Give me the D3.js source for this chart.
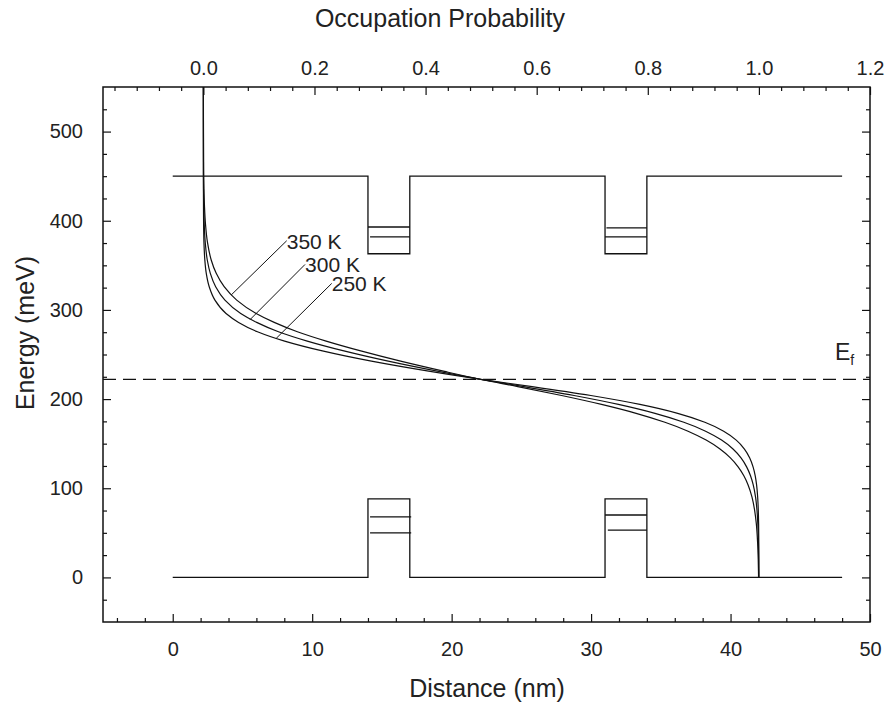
<!DOCTYPE html>
<html><head><meta charset="utf-8">
<script src="https://cdn.jsdelivr.net/npm/d3@7"></script>
<style>
body{margin:0;background:#fff;}
svg{display:block;}
text{font-family:Arial,"Liberation Sans",sans-serif;fill:#222;}
</style>
</head><body>
<svg id="c" width="887" height="706"></svg>
<script>
// ---------- data ----------
const distTicks = [0, 10, 20, 30, 40, 50];
const distMinor = [-4, -2, 2, 4, 6, 8, 12, 14, 16, 18, 22, 24, 26, 28, 32, 34, 36, 38, 42, 44, 46, 48];
const energyTicks = [0, 100, 200, 300, 400, 500];
const energyMinor = [-25, 25, 50, 75, 125, 150, 175, 225, 250, 275, 325, 350, 375, 425, 450, 475, 525];
const probTicks = [0.0, 0.2, 0.4, 0.6, 0.8, 1.0, 1.2];
const probMinor = [-0.16, -0.12, -0.08, -0.04, 0.04, 0.08, 0.12, 0.16, 0.24, 0.28, 0.32, 0.36, 0.44, 0.48, 0.52, 0.56,
                   0.64, 0.68, 0.72, 0.76, 0.84, 0.88, 0.92, 0.96, 1.04, 1.08, 1.12, 1.16];

const fermiLevel = 222;

// band edges (distance nm, energy meV)
const bandX = [0, 14, 14, 17, 17, 31, 31, 34, 34, 48];
const conductionE = [450, 450, 363, 363, 450, 450, 363, 363, 450, 450];
const valenceE = [0, 0, 88, 88, 0, 0, 88, 88, 0, 0];

// confined levels
const levelX0 = [14, 14.15, 31.1, 31, 14.15, 14.15, 31, 31.2];
const levelX1 = [17, 17, 34, 34, 17.1, 17.1, 34, 34];
const levelE = [393, 382, 392, 382, 68, 50, 70, 53];

// occupation curves: energy (meV) vs probability
const curveEnergy = [550, 466, 436, 416, 396, 376, 356, 341, 326, 311, 296, 286, 275.5, 265, 254, 242.5, 231, 222,
                     214, 204, 194, 184, 174, 164, 154, 144, 134, 124, 114, 104, 90, 75, 60, 40, 20, 0];
const occ250 = [0, 0, 0.0001, 0.0002, 0.0004, 0.0010, 0.0026, 0.0052, 0.0105, 0.0208, 0.0408, 0.0634, 0.0973, 0.1462, 0.2142, 0.3025, 0.4082, 0.5,
                0.5918, 0.6975, 0.7858, 0.8538, 0.9027, 0.9366, 0.9592, 0.9740, 0.9835, 0.9895, 0.9934, 0.9958, 0.9978, 0.9989, 0.9995, 0.9998, 0.9999, 1.0];
const occ300 = [0, 0.0001, 0.0003, 0.0007, 0.0015, 0.0033, 0.0070, 0.0125, 0.0221, 0.0388, 0.0672, 0.0959, 0.1351, 0.1870, 0.2529, 0.3327, 0.4232, 0.5,
                0.5768, 0.6673, 0.7471, 0.8130, 0.8649, 0.9041, 0.9328, 0.9534, 0.9678, 0.9779, 0.9849, 0.9897, 0.9940, 0.9966, 0.9981, 0.9991, 0.9996, 0.9998];
const occ350 = [0, 0.0004, 0.0010, 0.0020, 0.0038, 0.0073, 0.0141, 0.0231, 0.0374, 0.0600, 0.0950, 0.1275, 0.1692, 0.2210, 0.2833, 0.3551, 0.4341, 0.5,
                0.5659, 0.6449, 0.7167, 0.7790, 0.8308, 0.8725, 0.9050, 0.9300, 0.9487, 0.9626, 0.9729, 0.9804, 0.9876, 0.9924, 0.9954, 0.9976, 0.9988, 0.9994];

// curve labels with leader lines (probability, energy)
const labelNames = ["350 K", "300 K", "250 K"];
const leaderP0 = [0.150, 0.183, 0.231];
const leaderE0 = [377.6, 351.0, 329.7];
const leaderP1 = [0.050, 0.084, 0.131];
const leaderE1 = [316.7, 289.1, 268.0];

// ---------- layout ----------
const L = 103, R = 870, T = 87, B = 622;
const svg = d3.select("#c");

const x = d3.scaleLinear().domain([-5, 50]).range([L, R]);
const xp = d3.scaleLinear().domain([-0.1807, 1.2]).range([L, R]);
const y = d3.scaleLinear().domain([-50, 550]).range([B, T]);

const fontTick = "20px";

// clip
svg.append("defs").append("clipPath").attr("id", "clip")
  .append("rect").attr("x", L).attr("y", T).attr("width", R - L).attr("height", B - T);

// axes
function styleAxis(g) {
  g.select(".domain").remove();
  g.selectAll(".tick line").attr("stroke", "#111").attr("stroke-width", 1.2);
  g.selectAll(".tick text").style("font-size", fontTick).attr("fill", "#222");
}

svg.append("g").attr("transform", `translate(0,${B})`)
  .call(d3.axisBottom(x).tickValues(distTicks).tickSize(-8).tickPadding(20).tickFormat(d3.format("d")))
  .call(styleAxis);
svg.append("g").attr("transform", `translate(0,${B})`)
  .call(d3.axisBottom(x).tickValues(distMinor).tickSize(-4).tickFormat(""))
  .call(styleAxis);

svg.append("g").attr("transform", `translate(0,${T})`)
  .call(d3.axisTop(xp).tickValues(probTicks).tickSize(-8).tickPadding(12).tickFormat(d3.format(".1f")))
  .call(styleAxis);
svg.append("g").attr("transform", `translate(0,${T})`)
  .call(d3.axisTop(xp).tickValues(probMinor).tickSize(-4).tickFormat(""))
  .call(styleAxis);

svg.append("g").attr("transform", `translate(${L},0)`)
  .call(d3.axisLeft(y).tickValues(energyTicks).tickSize(-8).tickPadding(20).tickFormat(d3.format("d")))
  .call(styleAxis);
svg.append("g").attr("transform", `translate(${L},0)`)
  .call(d3.axisLeft(y).tickValues(energyMinor).tickSize(-4).tickFormat(""))
  .call(styleAxis);
svg.append("g").attr("transform", `translate(${R},0)`)
  .call(d3.axisRight(y).tickValues(energyTicks).tickSize(-8).tickFormat(""))
  .call(styleAxis);
svg.append("g").attr("transform", `translate(${R},0)`)
  .call(d3.axisRight(y).tickValues(energyMinor).tickSize(-4).tickFormat(""))
  .call(styleAxis);

// frame
svg.append("rect").attr("x", L).attr("y", T).attr("width", R - L).attr("height", B - T)
  .attr("fill", "none").attr("stroke", "#111").attr("stroke-width", 1.5);

// titles
svg.append("text").attr("x", 440).attr("y", 27).attr("text-anchor", "middle")
  .style("font-size", "25px").text("Occupation Probability");
svg.append("text").attr("x", 487).attr("y", 697).attr("text-anchor", "middle")
  .style("font-size", "25px").text("Distance (nm)");
svg.append("text").attr("transform", "translate(34,333) rotate(-90)").attr("text-anchor", "middle")
  .style("font-size", "25px").text("Energy (meV)");

const plot = svg.append("g").attr("clip-path", "url(#clip)");

// Fermi level
plot.append("line").attr("x1", L).attr("x2", R).attr("y1", y(fermiLevel)).attr("y2", y(fermiLevel))
  .attr("stroke", "#111").attr("stroke-width", 1.3).attr("stroke-dasharray", "13,7");

// bands
const bandLine = d3.line().x(d => x(d[0])).y(d => y(d[1]));
plot.append("path").datum(bandX.map((d, i) => [d, conductionE[i]])).attr("d", bandLine)
  .attr("fill", "none").attr("stroke", "#111").attr("stroke-width", 1.3);
plot.append("path").datum(bandX.map((d, i) => [d, valenceE[i]])).attr("d", bandLine)
  .attr("fill", "none").attr("stroke", "#111").attr("stroke-width", 1.3);

plot.selectAll(".lvl").data(levelE).enter().append("line")
  .attr("x1", (d, i) => x(levelX0[i])).attr("x2", (d, i) => x(levelX1[i]))
  .attr("y1", d => y(d)).attr("y2", d => y(d))
  .attr("stroke", "#111").attr("stroke-width", 1.3);

// occupation curves
const occLine = d3.line().x(d => xp(d[0])).y(d => y(d[1])).curve(d3.curveMonotoneY);
[occ350, occ300, occ250].forEach(arr => {
  plot.append("path").datum(arr.map((p, i) => [p, curveEnergy[i]])).attr("d", occLine)
    .attr("fill", "none").attr("stroke", "#111").attr("stroke-width", 1.2);
});

// labels
labelNames.forEach((name, i) => {
  plot.append("line")
    .attr("x1", xp(leaderP0[i])).attr("y1", y(leaderE0[i]))
    .attr("x2", xp(leaderP1[i])).attr("y2", y(leaderE1[i]))
    .attr("stroke", "#111").attr("stroke-width", 1);
  svg.append("text").attr("x", xp(leaderP0[i])).attr("y", y(leaderE0[i]) + 8)
    .style("font-size", "21px").text(name);
});

// Ef label
const ef = svg.append("text").attr("x", 835).attr("y", 360).style("font-size", "23px");
ef.append("tspan").text("E");
ef.append("tspan").attr("dy", 5).style("font-size", "14px").text("f");
</script>
</body></html>
